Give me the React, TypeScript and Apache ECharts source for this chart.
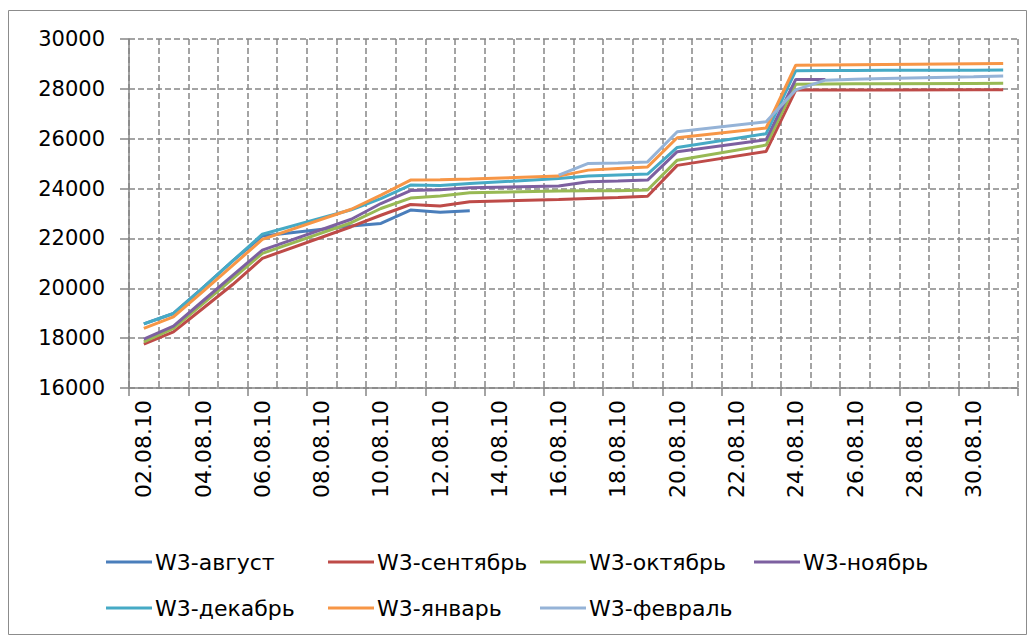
import React, { useEffect, useRef } from "react";
import * as echarts from "echarts";

const categories: string[] = [
  "02.08.10", "03.08.10", "04.08.10", "05.08.10", "06.08.10", "07.08.10", "08.08.10",
  "09.08.10", "10.08.10", "11.08.10", "12.08.10", "13.08.10", "14.08.10", "15.08.10",
  "16.08.10", "17.08.10", "18.08.10", "19.08.10", "20.08.10", "21.08.10", "22.08.10",
  "23.08.10", "24.08.10", "25.08.10", "26.08.10", "27.08.10", "28.08.10", "29.08.10",
  "30.08.10", "31.08.10",
];

const seriesNames: string[] = [
  "W3-август", "W3-сентябрь", "W3-октябрь", "W3-ноябрь",
  "W3-декабрь", "W3-январь", "W3-февраль",
];

const _ = null;
// one value per calendar day, weekends empty
const avgust = [18570, 18990, 20030, 21100, 22100, _, _, 22500, 22600, 23140, 23050, 23110, _, _, _, _, _, _, _, _, _, _, _, _, _, _, _, _, _, _];
const sentyabr = [17760, 18250, 19200, 20150, 21200, _, _, 22470, 22930, 23360, 23300, 23470, _, _, 23560, 23600, 23640, 23690, 24930, _, _, 25490, 27950, 27950, 27950, 27950, _, _, 27960, 27960];
const oktyabr = [17850, 18390, 19390, 20390, 21400, _, _, 22630, 23200, 23620, 23700, 23830, _, _, 23900, 23910, 23910, 23940, 25140, _, _, 25745, 28180, 28190, 28200, 28205, _, _, 28215, 28220];
const noyabr = [17960, 18480, 19500, 20520, 21530, _, _, 22770, 23400, 23920, 23950, 24030, _, _, 24100, 24270, 24300, 24340, 25480, _, _, 25960, 28380, 28380, _, _, _, _, _, _];
const dekabr = [18570, 18990, 20030, 21100, 22170, _, _, 23150, 23600, 24140, 24120, 24200, _, _, 24400, 24500, 24540, 24580, 25650, _, _, 26200, 28730, 28740, 28740, 28745, _, _, 28750, 28755];
const yanvar = [18390, 18850, 19880, 20920, 21960, _, _, 23170, 23740, 24340, 24350, 24380, _, _, 24500, 24740, 24810, 24870, 26040, _, _, 26430, 28950, 28960, 28970, 28980, _, _, 29010, 29020];
const fevral = [_, _, _, _, _, _, _, _, _, _, _, _, _, _, 24540, 25010, 25030, 25070, 26280, _, _, 26680, 27960, 28350, 28390, 28420, _, _, 28490, 28515];

const seriesData = [avgust, sentyabr, oktyabr, noyabr, dekabr, yanvar, fevral];
const colors = ["#4A7EBB", "#BE4B48", "#98B954", "#7D60A0", "#46AAC5", "#F79646", "#95B3D7"];

const yMin = 16000;
const yMax = 30000;
const yStep = 2000;

const FONT = "DejaVu Sans";

export default function App() {
  const ref = useRef<HTMLDivElement>(null);
  useEffect(() => {
    if (!ref.current) return;
    const chart = echarts.init(ref.current, undefined, { renderer: "svg" });
    const legendPos = [
      [106, 551], [328, 551], [540, 551], [754, 551],
      [106, 597], [328, 597], [540, 597],
    ];
    chart.setOption({
      animation: false,
      backgroundColor: "#ffffff",
      color: colors,
      graphic: [
        {
          type: "rect",
          shape: { x: 8.5, y: 10.5, width: 1018, height: 624 },
          style: { fill: "none", stroke: "#8c8c8c", lineWidth: 1 },
          silent: true,
        },
      ],
      legend: seriesNames.map((n, i) => ({
        data: [n],
        left: legendPos[i][0],
        top: legendPos[i][1],
        icon: "rect",
        itemWidth: 46,
        itemHeight: 3,
        itemGap: 0,
        padding: 0,
        textStyle: { fontFamily: FONT, fontSize: 22, color: "#000", padding: [0, 0, 0, -2] },
      })),
      grid: { left: 129, top: 39, width: 889, height: 349, containLabel: false },
      xAxis: {
        type: "category",
        data: categories,
        boundaryGap: true,
        axisLine: { show: true, lineStyle: { color: "#868686", width: 1.5 } },
        axisTick: { show: true, interval: 1, length: 8, lineStyle: { color: "#868686", width: 1.5 } },
        axisLabel: {
          interval: 1,
          rotate: 90,
          margin: 12,
          fontFamily: FONT,
          fontSize: 22,
          color: "#000",
        },
        splitLine: {
          show: true,
          interval: 0,
          lineStyle: { color: "#868686", type: [6, 3], width: 1.5 },
        },
      },
      yAxis: {
        type: "value",
        min: yMin,
        max: yMax,
        interval: yStep,
        axisLine: { show: true, lineStyle: { color: "#868686", width: 1.5 } },
        axisTick: { show: true, length: 9, lineStyle: { color: "#868686", width: 1.5 } },
        axisLabel: {
          margin: 24,
          fontFamily: FONT,
          fontSize: 21,
          color: "#000",
          formatter: (v: number) => String(v),
        },
        splitLine: {
          show: true,
          lineStyle: { color: "#868686", type: [6, 3], width: 1.5 },
        },
      },
      series: seriesNames.map((n, i) => ({
        name: n,
        type: "line",
        data: seriesData[i],
        connectNulls: true,
        showSymbol: false,
        symbol: "none",
        lineStyle: { width: 3, color: colors[i] },
        itemStyle: { color: colors[i] },
      })),
    });
    return () => chart.dispose();
  }, []);
  return (
    <div
      ref={ref}
      style={{ position: "fixed", left: 0, top: 0, width: 1035, height: 639 }}
    />
  );
}
